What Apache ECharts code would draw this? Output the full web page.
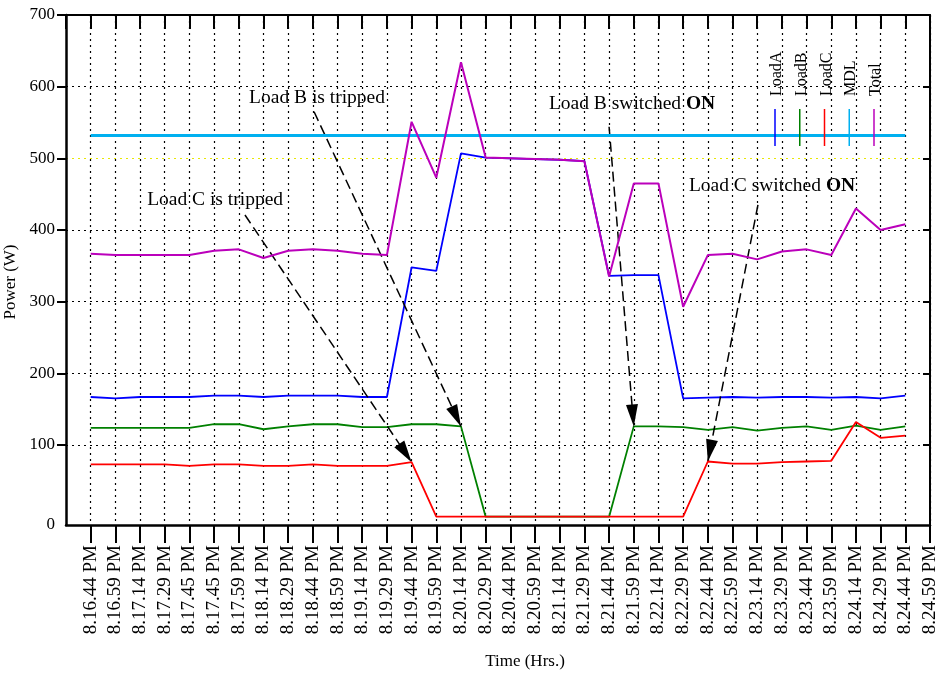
<!DOCTYPE html>
<html><head><meta charset="utf-8">
<script src="https://cdn.jsdelivr.net/npm/echarts@6/dist/echarts.min.js"></script>
<style>html,body{margin:0;padding:0;background:#fff}#c{width:939px;height:673px}</style>
</head><body><div id="c"></div>
<script>
// ---------- data ----------
const timeLabels = ['8.16.44 PM','8.16.59 PM','8.17.14 PM','8.17.29 PM','8.17.45 PM','8.17.45 PM','8.17.59 PM',
  '8.18.14 PM','8.18.29 PM','8.18.44 PM','8.18.59 PM','8.19.14 PM','8.19.29 PM','8.19.44 PM','8.19.59 PM',
  '8.20.14 PM','8.20.29 PM','8.20.44 PM','8.20.59 PM','8.21.14 PM','8.21.29 PM','8.21.44 PM','8.21.59 PM',
  '8.22.14 PM','8.22.29 PM','8.22.44 PM','8.22.59 PM','8.23.14 PM','8.23.29 PM','8.23.44 PM','8.23.59 PM',
  '8.24.14 PM','8.24.29 PM','8.24.44 PM','8.24.59 PM'];
const loadA = [167,165,167,167,167,169,169,167,169,169,169,167,167,348,343,507,501,500,499,498,496,336,337,337,165,166,167,166,167,167,166,167,165,169];
const loadB = [124,124,124,124,124,129,129,122,126,129,129,125,125,129,129,126,0,0,0,0,0,0,126,126,125,121,125,120,124,126,121,127,121,126];
const loadC = [73,73,73,73,71,73,73,71,71,73,71,71,71,76,0,0,0,0,0,0,0,0,0,0,0,77,74,74,76,77,78,132,110,113];
const mdl   = [532,532,532,532,532,532,532,532,532,532,532,532,532,532,532,532,532,532,532,532,532,532,532,532,532,532,532,532,532,532,532,532,532,532];
const total = [367,365,365,365,365,371,373,361,371,373,371,367,365,551,473,634,501,500,499,498,496,335,465,465,293,365,367,359,370,373,365,430,400,408];
const yTickValues = [100,200,300,400,500,600,700];
const seriesNames = ['LoadA','LoadB','LoadC','MDL','Total'];
const annotationTexts = ['Load B is tripped','Load C is tripped','Load B switched {b|ON}','Load C switched {b|ON}'];

// ---------- layout / style ----------
const serif = '"Liberation Serif", "Times New Roman", serif';
const seriesColors = ['#0000ff','#008000','#ff0000','#00b0f0','#bb00bb'];
const seriesWidths = [1.8,1.8,1.8,3,2];
const Y_MIN = -11.6;
const textAnchors = [[10.17,584],[6.04,442],[22.93,576],[28.6,461]];
const arrowStarts = [[10.05,565],[7.25,421],[22.0,544],[28.03,435]];
const arrowEnds = [[16, loadB[15]],[14, loadC[13]],[23, loadB[22]],[26, loadC[25]]];
const seriesValues = [loadA, loadB, loadC, mdl, total];
const gridColors = yTickValues.map(v => v === 500 ? '#e8e800' : '#000');
const xTickValues = timeLabels.map((t,i)=>i+1);

const chart = echarts.init(document.getElementById('c'), null, {renderer:'canvas'});
const series = seriesNames.map((n,k) => ({
  type:'line', name:n, xAxisIndex:0, yAxisIndex:0,
  data: seriesValues[k].map((v,i)=>[i+1, v]),
  symbol:'none', showSymbol:false,
  lineStyle:{color:seriesColors[k], width:seriesWidths[k]},
  itemStyle:{color:seriesColors[k]},
  z: 3 + k, animation:false
}));
series.push({
  type:'line', name:'annot', data:[], xAxisIndex:0, yAxisIndex:0, z: 20, animation:false,
  markLine:{
    silent:true, animation:false, symbol:['none','triangle'],
    lineStyle:{type:[10,5], color:'#000', width:1.5},
    itemStyle:{color:'#000'},
    label:{show:false},
    data: arrowStarts.map((s,i)=>[{coord:s, symbol:'none'},
      {coord:arrowEnds[i], symbol:'triangle', symbolSize:[12,22], symbolOffset:[0,11]}])
  },
  markPoint:{
    silent:true, animation:false, symbol:'circle', symbolSize:0,
    label:{show:true, position:'inside', color:'#000', fontFamily:serif, fontSize:19.5,
      formatter: p => p.name,
      rich:{b:{fontWeight:'bold', fontFamily:serif, fontSize:19.5, color:'#000'}}},
    data: annotationTexts.map((t,i)=>({name:t, coord:textAnchors[i]}))
  }
});

const legendX0 = 775, legendStep = 24.75;
const graphic = [];
seriesNames.forEach((n,k)=>{
  graphic.push({type:'text', x: legendX0 + 2 + k*legendStep, y: 96, rotation: Math.PI/2, z:100,
    style:{text:n, font:'16px "Liberation Serif"', fill:'#000', textAlign:'left', textVerticalAlign:'middle'}});
  graphic.push({type:'line', z:100, shape:{x1:legendX0 + k*legendStep, y1:109, x2:legendX0 + k*legendStep, y2:146},
    style:{stroke:seriesColors[k], lineWidth:1.5}});
});

const option = {
  animation:false,
  backgroundColor:'#fff',
  grid:{left:66, top:15, right:9, bottom:148, containLabel:false, outerBoundsMode:'none'},
  legend:{show:false},
  xAxis:[{
    type:'value', min:0, max:timeLabels.length, interval:1, position:'bottom',
    name:'Time (Hrs.)', nameLocation:'middle', nameGap:128,
    nameTextStyle:{fontFamily:serif, fontSize:17, color:'#000', padding:[0,0,0,54]},
    axisLine:{show:true, onZero:false, lineStyle:{color:'#000', width:2.5}},
    axisTick:{show:true, inside:false, length:18, customValues:xTickValues, lineStyle:{color:'#000', width:2}},
    axisLabel:{rotate:90, margin:20, fontFamily:serif, fontSize:19, color:'#000',
      customValues:xTickValues, showMinLabel:true, showMaxLabel:true,
      formatter: v => (v >= 1 && v <= timeLabels.length) ? timeLabels[v-1] : ''},
    splitLine:{show:true, lineStyle:{color:'#000', type:[2,4], width:1.2}}
  },{
    type:'value', min:0, max:timeLabels.length, interval:1, position:'top',
    axisLine:{show:true, onZero:false, lineStyle:{color:'#000', width:2}},
    axisTick:{show:true, inside:true, length:14, lineStyle:{color:'#000', width:2}},
    axisLabel:{show:false}, splitLine:{show:false}
  }],
  yAxis:[{
    type:'value', min:Y_MIN, max:700, position:'left',
    name:'Power (W)', nameLocation:'middle', nameGap:41, nameRotate:90,
    nameTextStyle:{fontFamily:serif, fontSize:17, color:'#000', padding:[0,24,0,0]},
    axisLine:{show:true, onZero:false, lineStyle:{color:'#000', width:2.5}},
    axisTick:{show:true, inside:false, length:9, customValues:yTickValues, lineStyle:{color:'#000', width:2}},
    axisLabel:{customValues:[Y_MIN].concat(yTickValues), formatter: v => v < 0 ? '0' : String(Math.round(v)),
      fontFamily:serif, fontSize:17, color:'#000', margin:11},
    splitLine:{show:true, lineStyle:{color:gridColors, type:[2,4], width:1.2}}
  },{
    type:'value', min:Y_MIN, max:700, position:'right',
    axisLine:{show:true, onZero:false, lineStyle:{color:'#000', width:2}},
    axisTick:{show:true, inside:true, length:7, customValues:yTickValues, lineStyle:{color:'#000', width:2}},
    axisLabel:{show:false}, splitLine:{show:false}
  }],
  series: series,
  graphic: graphic
};
chart.setOption(option);
</script></body></html>
